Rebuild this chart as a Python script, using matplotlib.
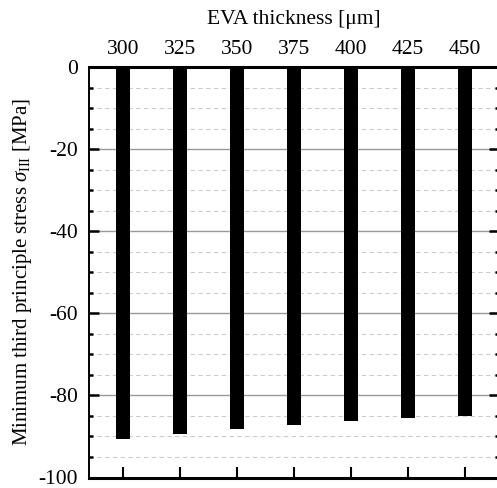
import matplotlib
matplotlib.use("Agg")
import matplotlib.pyplot as plt
from matplotlib.ticker import MultipleLocator

plt.rcParams['font.family'] = ['Liberation Serif', 'DejaVu Serif']
plt.rcParams['mathtext.fontset'] = 'custom'
plt.rcParams['mathtext.rm'] = 'Liberation Serif'
plt.rcParams['mathtext.it'] = 'Liberation Serif:italic'
plt.rcParams['axes.unicode_minus'] = False

thickness = [300, 325, 350, 375, 400, 425, 450]
stress = [-90.7, -89.4, -88.3, -87.1, -86.2, -85.5, -84.9]
tick_labels = ['300', '325', '350', '375', '400', '425', '450']

fig = plt.figure(figsize=(4.97, 4.88), dpi=100)
ax = fig.add_axes([89/497, 1-477.5/488, 410/497, 410.5/488])

ax.bar(thickness, stress, width=6.4, color='black', zorder=3)

ax.set_xlim(285, 465)
ax.set_ylim(-100, 0)
ax.set_xticks(thickness)
ax.set_xticklabels(tick_labels)
ax.yaxis.set_major_locator(MultipleLocator(20))
ax.yaxis.set_minor_locator(MultipleLocator(5))

ax.grid(True, which='major', axis='y', color='#999999', linewidth=1.0, zorder=0)
ax.grid(True, which='minor', axis='y', color='#cccccc', linewidth=0.8,
        linestyle=(0, (4, 3)), zorder=0)
ax.set_axisbelow(True)

ax.tick_params(axis='x', which='both', top=False, bottom=True, labeltop=True,
               labelbottom=False, direction='in', length=8, width=1.5,
               labelsize=15.5, pad=6)
ax.tick_params(axis='y', which='major', left=True, right=True, direction='in',
               length=7, width=1.8, labelsize=15.5, pad=8)
ax.tick_params(axis='y', which='minor', left=True, right=True, direction='in',
               length=3, width=1.8)
ax.xaxis.set_label_position('top')
ax.set_xlabel('EVA thickness [μm]', fontsize=15.5, labelpad=11)
ax.set_ylabel(r'Minimum third principle stress $\sigma_{\mathrm{III}}$ [MPa]',
              fontsize=15, labelpad=3)

for s in ['left', 'right']:
    ax.spines[s].set_linewidth(1.4)
for s in ['top', 'bottom']:
    ax.spines[s].set_linewidth(2.2)

fig.savefig('out.png', dpi=100)
